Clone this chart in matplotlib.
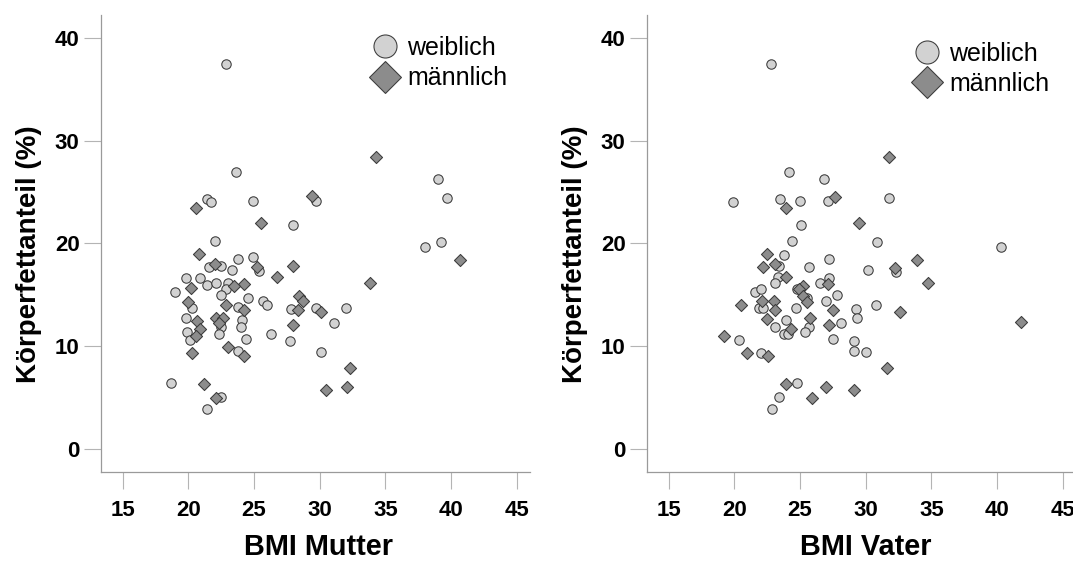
import matplotlib
matplotlib.use("Agg")
import matplotlib.pyplot as plt
from matplotlib.lines import Line2D

plt.rcParams['font.family'] = ['Liberation Sans', 'DejaVu Sans']

# ---------------- data ----------------
weiblich_mutter_x = [22.85, 23.6, 21.4, 21.7, 24.9, 29.7, 39.0, 39.7, 38.0, 39.2, 28.0, 22.0, 23.8, 24.95,
                     21.6, 22.45, 23.3, 25.4, 19.8, 20.9, 21.4, 22.1, 23.0, 18.96, 22.9, 22.5, 24.5, 25.7,
                     26.0, 20.3, 23.8, 27.8, 29.7, 32.0, 19.8, 24.1, 22.45, 24.0, 31.1, 19.9, 22.3, 26.3,
                     20.1, 24.4, 27.7, 23.8, 30.1, 18.7, 22.5, 21.4]
weiblich_mutter_y = [37.4, 26.9, 24.3, 24.0, 24.1, 24.1, 26.3, 24.4, 19.7, 20.1, 21.8, 20.2, 18.5, 18.7,
                     17.7, 17.8, 17.4, 17.3, 16.6, 16.6, 16.0, 16.2, 16.2, 15.3, 15.6, 15.0, 14.7, 14.4,
                     14.0, 13.7, 13.8, 13.6, 13.7, 13.7, 12.8, 12.6, 11.9, 11.9, 12.3, 11.4, 11.2, 11.2,
                     10.6, 10.7, 10.5, 9.6, 9.5, 6.4, 5.1, 3.9]

maennlich_mutter_x = [34.3, 29.4, 20.6, 25.5, 20.8, 22.0, 25.2, 28.0, 26.75, 40.7, 33.8, 24.2, 23.45, 20.2,
                      28.4, 28.7, 20.0, 22.9, 24.2, 28.35, 30.1, 20.65, 22.1, 22.6, 22.3, 20.85, 20.6, 28.0,
                      23.0, 24.2, 20.3, 32.3, 21.2, 30.5, 32.1, 22.1]
maennlich_mutter_y = [28.4, 24.6, 23.4, 22.0, 19.0, 18.0, 17.7, 17.8, 16.7, 18.4, 16.2, 16.1, 15.9, 15.7,
                      14.9, 14.4, 14.35, 14.0, 13.5, 13.5, 13.3, 12.5, 12.8, 12.8, 12.3, 11.7, 11.0, 12.1,
                      9.9, 9.1, 9.4, 7.9, 6.3, 5.8, 6.1, 5.0]

weiblich_vater_x = [22.8, 24.2, 26.8, 19.9, 23.5, 25.0, 27.1, 31.8, 25.1, 24.4, 30.9, 40.3, 23.8, 27.2,
                    25.65, 23.4, 30.2, 32.3, 23.3, 23.1, 26.5, 27.2, 21.6, 22.0, 24.8, 27.8, 25.5, 27.0,
                    21.9, 22.2, 24.7, 29.3, 30.8, 23.9, 29.35, 28.1, 23.1, 25.7, 25.4, 23.8, 24.1, 20.35,
                    27.5, 29.1, 22.0, 29.1, 30.0, 24.8, 23.4, 22.9]
weiblich_vater_y = [37.4, 26.9, 26.3, 24.0, 24.3, 24.1, 24.1, 24.4, 21.8, 20.2, 20.1, 19.7, 18.85, 18.5,
                    17.7, 17.8, 17.4, 17.2, 16.7, 16.2, 16.2, 16.6, 15.3, 15.6, 15.6, 15.0, 14.7, 14.4,
                    13.7, 13.7, 13.7, 13.6, 14.0, 12.6, 12.8, 12.3, 11.9, 11.9, 11.4, 11.2, 11.2, 10.6,
                    10.7, 10.5, 9.4, 9.6, 9.5, 6.4, 5.1, 3.9]

maennlich_vater_x = [31.8, 27.7, 23.9, 29.5, 22.5, 22.2, 23.1, 32.2, 33.9, 23.9, 34.75, 27.1, 25.2, 24.9,
                     25.2, 25.5, 22.1, 23.0, 20.5, 23.1, 27.5, 32.6, 22.5, 25.8, 24.3, 27.2, 41.85, 19.2,
                     21.0, 22.6, 31.6, 23.9, 27.0, 29.1, 25.9]
maennlich_vater_y = [28.4, 24.5, 23.4, 22.0, 19.0, 17.7, 18.0, 17.6, 18.4, 16.7, 16.2, 16.1, 15.9, 15.6,
                     14.9, 14.3, 14.45, 14.4, 14.0, 13.5, 13.5, 13.3, 12.7, 12.75, 11.7, 12.1, 12.4, 11.0,
                     9.4, 9.1, 7.9, 6.3, 6.1, 5.8, 5.0]

x_ticks = [15, 20, 25, 30, 35, 40, 45]
y_ticks = [0, 10, 20, 30, 40]
x_labels = ["BMI Mutter", "BMI Vater"]
y_label = "Körperfettanteil (%)"
legend_labels = ["weiblich", "männlich"]

# ---------------- style ----------------
circle_fill = "#d2d2d2"
diamond_fill = "#8c8c8c"
edge_col = "#3a3a3a"
spine_col = "#9a9a9a"
tick_col = "#b4b4b4"

W, H = 1073, 561
fig = plt.figure(figsize=(W / 100, H / 100), dpi=100)

ax_h = 457.3 / H
ax_b = (H - 472.3) / H
ax_w = 429 / W
axes = [fig.add_axes([101 / W, ax_b, ax_w, ax_h]),
        fig.add_axes([646.9 / W, ax_b, ax_w, ax_h])]

panels = [
    (weiblich_mutter_x, weiblich_mutter_y, maennlich_mutter_x, maennlich_mutter_y),
    (weiblich_vater_x, weiblich_vater_y, maennlich_vater_x, maennlich_vater_y),
]
legend_anchor = [(0.633, 0.9545), (0.6245, 0.942)]
xlabel_x = [0.508, 0.511]

for i, ax in enumerate(axes):
    wx, wy, mx, my = panels[i]
    ax.scatter(wx, wy, s=46, marker='o', facecolor=circle_fill, edgecolor=edge_col,
               linewidths=0.75, zorder=3)
    ax.scatter(mx, my, s=38, marker='D', facecolor=diamond_fill, edgecolor=edge_col,
               linewidths=0.75, zorder=3)

    ax.set_xlim(13.35, 46.0)
    ax.set_ylim(-2.235, 42.2)
    ax.set_xticks(x_ticks)
    ax.set_yticks(y_ticks)
    ax.set_xticklabels([str(t) for t in x_ticks])
    ax.set_yticklabels([str(t) for t in y_ticks])
    for s in ['top', 'right']:
        ax.spines[s].set_visible(False)
    for s in ['left', 'bottom']:
        ax.spines[s].set_color(spine_col)
        ax.spines[s].set_linewidth(0.9)
    ax.tick_params(axis='both', direction='out', length=12, width=0.8, color=tick_col,
                   labelsize=16, labelcolor='black')
    ax.tick_params(axis='y', pad=3.4)
    ax.tick_params(axis='x', pad=7.6)
    for lab in ax.get_xticklabels() + ax.get_yticklabels():
        lab.set_fontweight('bold')

    ax.set_xlabel(x_labels[i], fontsize=20.8, fontweight='bold')
    ax.xaxis.label.set_va('baseline')
    ax.xaxis.set_label_coords(xlabel_x[i], -0.181)
    ax.set_ylabel(y_label, fontsize=20, fontweight='bold')
    ax.yaxis.label.set_va('baseline')
    ax.yaxis.set_label_coords(-0.152, 0.4765)

    handles = [
        Line2D([], [], linestyle='none', marker='o', markersize=16.6,
               markerfacecolor=circle_fill, markeredgecolor=edge_col, markeredgewidth=0.75),
        Line2D([], [], linestyle='none', marker='D', markersize=16.8,
               markerfacecolor=diamond_fill, markeredgecolor=edge_col, markeredgewidth=0.75),
    ]
    ax.legend(handles, legend_labels, loc='upper left', bbox_to_anchor=legend_anchor[i],
              frameon=False, fontsize=18, borderpad=0, borderaxespad=0, handlelength=1.0,
              handletextpad=0.38, labelspacing=0.26, handleheight=0.7)

fig.savefig("out.png", dpi=100)
